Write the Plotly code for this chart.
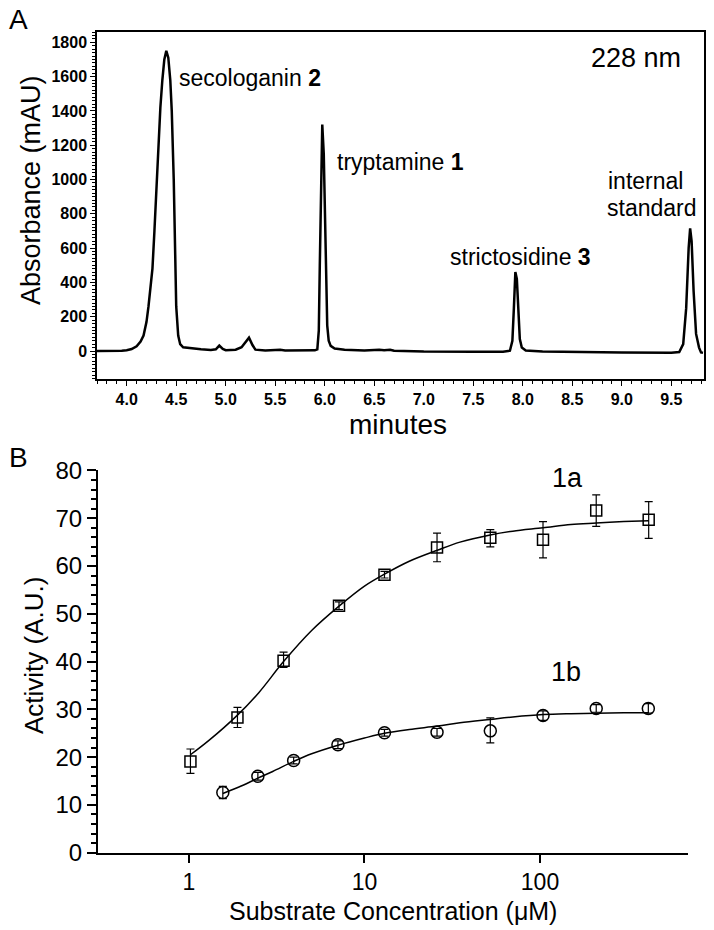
import plotly.graph_objects as go

W, H = 714, 930

# ---------------- Panel A: chromatogram (minutes, mAU) ----------------
time_min = [3.70, 3.80, 3.90, 3.95, 4.00, 4.05, 4.10, 4.14, 4.17, 4.20, 4.22, 4.24, 4.26, 4.28,
            4.30, 4.32, 4.34, 4.36, 4.38, 4.40, 4.42, 4.44, 4.455, 4.475, 4.49, 4.50, 4.52, 4.54,
            4.57, 4.65, 4.75, 4.85, 4.90, 4.935, 4.97, 5.00, 5.10, 5.16, 5.20, 5.235, 5.27,
            5.30, 5.40, 5.50, 5.55, 5.60, 5.80, 5.90, 5.925, 5.94, 5.95, 5.96, 5.975, 5.99,
            6.00, 6.01, 6.025, 6.04, 6.06, 6.10, 6.20, 6.40, 6.55, 6.60, 6.66, 6.70, 7.00,
            7.50, 7.80, 7.87, 7.895, 7.91, 7.925, 7.94, 7.955, 7.97, 7.99, 8.03, 8.20, 8.60,
            9.00, 9.50, 9.58, 9.62, 9.65, 9.675, 9.69, 9.705, 9.725, 9.75, 9.78, 9.80, 9.82]
absorbance = [0, 0, 0, 2, 5, 12, 28, 55, 90, 170, 260, 360, 480, 700,
              950, 1200, 1420, 1580, 1700, 1750, 1710, 1580, 1400, 1000, 550, 260, 90, 40,
              22, 15, 10, 6, 10, 32, 12, 5, 8, 22, 50, 78, 35,
              8, 3, 4, 7, 3, 2, 4, 10, 120, 500, 950, 1320, 1150,
              800, 420, 150, 60, 30, 15, 8, 3, 8, 4, 8, 2, -3,
              -4, -4, 2, 60, 250, 460, 420, 220, 70, 20, 3, -2, -6,
              -8, -10, -6, 40, 250, 600, 715, 640, 350, 100, 20, -8, -10]

a_xticks = [4.0, 4.5, 5.0, 5.5, 6.0, 6.5, 7.0, 7.5, 8.0, 8.5, 9.0, 9.5]
a_yticks = [0, 200, 400, 600, 800, 1000, 1200, 1400, 1600, 1800]

# ---------------- Panel B: activity vs substrate concentration ----------------
conc_1a = [1.02, 1.89, 3.46, 7.16, 13.0, 25.9, 52.1, 104, 209, 416]
act_1a = [19.1, 28.3, 40.2, 51.7, 58.2, 63.9, 65.9, 65.5, 71.6, 69.7]
err_1a_up = [2.6, 2.1, 1.8, 0.8, 0.7, 3.0, 1.7, 3.8, 3.3, 3.8]
err_1a_dn = [2.5, 2.1, 1.4, 0.8, 0.7, 3.0, 1.9, 3.8, 3.3, 3.9]

conc_1b = [1.56, 2.47, 3.95, 7.06, 13.0, 25.9, 52.1, 104, 209, 414]
act_1b = [12.6, 16.0, 19.3, 22.6, 25.1, 25.2, 25.5, 28.7, 30.2, 30.2]
err_1b_up = [1.3, 0.8, 0.7, 0.8, 0.7, 0.8, 2.7, 1.0, 0.8, 1.0]
err_1b_dn = [1.3, 0.8, 0.7, 0.8, 0.7, 0.8, 2.5, 1.0, 0.8, 1.0]

fit_conc_1a = [1.02, 1.3, 1.89, 2.5, 3.46, 5.0, 7.16, 10, 13, 18, 26, 35, 52, 70, 104, 150, 209, 300, 416]
fit_act_1a = [20.5, 23.5, 28.8, 33.5, 40.0, 46.5, 51.6, 55.8, 58.3, 61.0, 63.3, 65.0, 66.5, 67.3, 68.0, 68.7, 69.0, 69.3, 69.5]

fit_conc_1b = [1.56, 2.0, 2.47, 3.0, 3.95, 5.0, 7.06, 10, 13, 18, 26, 35, 52, 70, 104, 150, 209, 300, 416]
fit_act_1b = [12.4, 14.0, 15.6, 17.0, 19.1, 20.7, 22.5, 24.0, 25.0, 25.8, 26.5, 27.2, 27.9, 28.4, 28.9, 29.1, 29.2, 29.3, 29.3]

b_xtickvals = [1, 10, 100]
b_xticktext = ["1", "10", "100"]
b_xminor = [0.4, 0.5, 0.6, 0.7, 0.8, 0.9, 2, 3, 4, 5, 6, 7, 8, 9,
            20, 30, 40, 50, 60, 70, 80, 90, 200, 300, 400, 500, 600, 700]
b_yticks = [0, 10, 20, 30, 40, 50, 60, 70, 80]

FONT = "Liberation Sans, Arial, sans-serif"


def px(x):
    return x / W


def py(y):
    return 1 - y / H


fig = go.Figure()

fig.add_trace(go.Scatter(x=time_min, y=absorbance, mode="lines",
                         line=dict(color="black", width=2.5),
                         xaxis="x", yaxis="y", showlegend=False))

fig.add_trace(go.Scatter(x=fit_conc_1a, y=fit_act_1a, mode="lines", line_shape="spline",
                         line=dict(color="black", width=1.5),
                         xaxis="x2", yaxis="y2", showlegend=False))
fig.add_trace(go.Scatter(x=fit_conc_1b, y=fit_act_1b, mode="lines", line_shape="spline",
                         line=dict(color="black", width=1.5),
                         xaxis="x2", yaxis="y2", showlegend=False))

fig.add_trace(go.Scatter(x=conc_1a, y=act_1a, mode="markers",
                         marker=dict(symbol="square-open", size=11, color="black",
                                     line=dict(width=1.5, color="black")),
                         error_y=dict(type="data", array=err_1a_up, arrayminus=err_1a_dn,
                                      symmetric=False, color="black", thickness=1.2, width=4),
                         xaxis="x2", yaxis="y2", showlegend=False))
fig.add_trace(go.Scatter(x=conc_1b, y=act_1b, mode="markers",
                         marker=dict(symbol="circle-open", size=12, color="black",
                                     line=dict(width=1.5, color="black")),
                         error_y=dict(type="data", array=err_1b_up, arrayminus=err_1b_dn,
                                      symmetric=False, color="black", thickness=1.2, width=4),
                         xaxis="x2", yaxis="y2", showlegend=False))

annotations = [
    dict(text="A", x=px(18), y=py(20), font=dict(size=28)),
    dict(text="B", x=px(18), y=py(458), font=dict(size=28)),
    dict(text="228 nm", x=px(636), y=py(58), font=dict(size=27)),
    dict(text="secologanin <b>2</b>", x=px(177), y=py(78), xanchor="left", font=dict(size=23)),
    dict(text="tryptamine <b>1</b>", x=px(335), y=py(162), xanchor="left", font=dict(size=23)),
    dict(text="strictosidine <b>3</b>", x=px(520), y=py(257), font=dict(size=23)),
    dict(text="internal", x=px(645), y=py(181), font=dict(size=23)),
    dict(text="standard", x=px(652), y=py(208), font=dict(size=23)),
    dict(text="Absorbance (mAU)", x=px(31), y=py(190), textangle=-90, font=dict(size=27)),
    dict(text="minutes", x=px(398), y=py(424), font=dict(size=28)),
    dict(text="1a", x=px(567), y=py(478), font=dict(size=27)),
    dict(text="1b", x=px(566), y=py(672), font=dict(size=27)),
    dict(text="Activity (A.U.)", x=px(34), y=py(656), textangle=-90, font=dict(size=26)),
    dict(text="Substrate Concentration (\u03bcM)", x=px(393), y=py(911), font=dict(size=25)),
]
for a in annotations:
    a.setdefault("xanchor", "center")
    a.update(xref="paper", yref="paper", yanchor="middle", showarrow=False)
    a["font"].update(family=FONT, color="black")

axis_common = dict(showgrid=False, zeroline=False, linecolor="black", ticks="outside",
                   tickcolor="black", automargin=False)

fig.update_layout(
    width=W, height=H,
    margin=dict(l=0, r=0, t=0, b=0, autoexpand=False),
    paper_bgcolor="white", plot_bgcolor="white",
    font=dict(family=FONT, color="black"),
    annotations=annotations,
    xaxis=dict(**axis_common, domain=[px(97), px(704)], range=[3.70, 9.83],
               tickvals=a_xticks, tickformat=".1f", anchor="y", linewidth=1.5,
               mirror=True, ticklen=5, tickwidth=1.2,
               minor=dict(dtick=0.1, ticks="outside", ticklen=3, tickcolor="black", tickwidth=1),
               tickfont=dict(size=16, family="Liberation Sans, Arial", weight="bold")),
    yaxis=dict(**axis_common, domain=[py(379), py(32)], range=[-163, 1860],
               tickvals=a_yticks, anchor="x", linewidth=1.5, mirror=True,
               ticklen=5, tickwidth=1.2,
               minor=dict(dtick=20, tick0=0, ticks="outside", ticklen=3, tickcolor="black", tickwidth=1),
               tickfont=dict(size=16, family="Liberation Sans, Arial", weight="bold")),
    xaxis2=dict(**axis_common, type="log", domain=[px(98), px(688)],
                range=[-0.518, 2.843], tickvals=b_xtickvals, ticktext=b_xticktext,
                anchor="y2", linewidth=2, ticklen=8, tickwidth=2,
                tickfont=dict(size=23)),
    xaxis3=dict(showgrid=False, zeroline=False, showline=False, type="log",
                domain=[px(98), px(688)], range=[-0.518, 2.843], overlaying="x2",
                anchor="y2", side="bottom", tickvals=b_xminor, showticklabels=False,
                ticks="outside", ticklen=4, tickwidth=1.5, tickcolor="black", automargin=False),
    yaxis2=dict(**axis_common, domain=[py(852.7), py(470)], range=[0, 80.1],
                tickvals=b_yticks, anchor="x2", linewidth=2, ticklen=9, tickwidth=2,
                minor=dict(dtick=2, tick0=0, ticks="outside", ticklen=5, tickcolor="black", tickwidth=1.5),
                tickfont=dict(size=24)),
)

fig.write_html("out.html", config={"displayModeBar": False},
               post_script="document.body.style.margin='0px';")
